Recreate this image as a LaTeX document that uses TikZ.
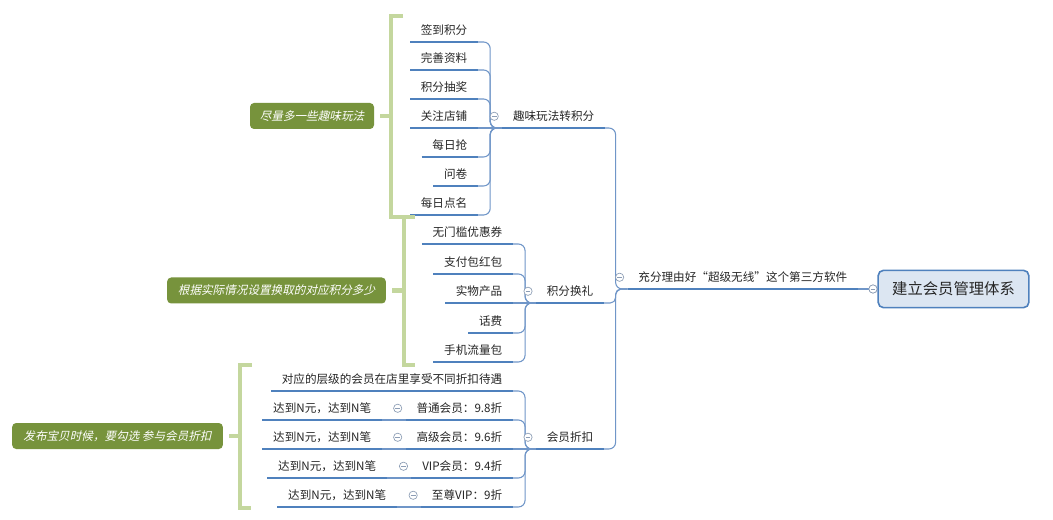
\documentclass[tikz,border=0pt]{standalone}
\usepackage{fontspec}
\setmainfont{Noto Sans CJK SC}
\newfontfamily\slantcjk[FakeSlant=0.22]{Noto Sans CJK SC}
\definecolor{ulblue}{HTML}{4F81BD}
\definecolor{lnblue}{HTML}{7096C8}
\definecolor{brgreen}{HTML}{C4D79E}
\definecolor{cgreen}{HTML}{77933C}
\definecolor{rootfill}{HTML}{DCE6F2}
\definecolor{foldgray}{HTML}{8C9DB5}
\tikzset{
  topic/.style={anchor=south east, font=\fontsize{8.7pt}{10pt}\selectfont, text=black!85,
    inner xsep=7.9pt, inner ysep=2.5pt, text height=7pt, text depth=3.2pt},
  ul/.style={draw=ulblue, line width=2.2pt},
  conn/.style={draw=lnblue, line width=0.8pt, rounded corners=5pt},
  fold/.style={circle, draw=foldgray, fill=white, line width=0.5pt, minimum size=6.2pt, inner sep=0pt,
    path picture={\draw[foldgray, line width=0.5pt] ([xshift=1.3pt]path picture bounding box.west) -- ([xshift=-1.3pt]path picture bounding box.east);}},
  callout/.style={fill=cgreen, rounded corners=3pt, text=white, font=\slantcjk\fontsize{8.7pt}{10pt}\selectfont,
    minimum height=19.5pt, inner sep=0pt},
  bracket/.style={draw=brgreen, line width=3.2pt, line join=miter},
  rootbox/.style={draw=ulblue, fill=rootfill, line width=1.2pt, rounded corners=4pt,
    minimum width=113pt, minimum height=28pt, inner sep=0pt, font=\fontsize{11.5pt}{13pt}\selectfont, text=black!85}
}
\begin{document}
\begin{tikzpicture}[x=0.75pt,y=-0.75pt]
\fill[white] (0,0) rectangle (1053,520);
\useasboundingbox (0,0) rectangle (1053,520);

% root and level 1
\node[rootbox] (root) at (953.5,289) {建立会员管理体系};
\node[topic] (L1) at (858,289) {充分理由好“超级无线”这个第三方软件};
\node[fold] (f0) at (873,289) {};

% level 2
\node[topic] (A) at (605,128) {趣味玩法转积分};
\node[topic] (B) at (604,303) {积分换礼};
\node[topic] (C) at (604,449) {会员折扣};

% group A
\node[topic] (a1) at (478,42) {签到积分};
\node[topic] (a2) at (478,70) {完善资料};
\node[topic] (a3) at (478,99) {积分抽奖};
\node[topic] (a4) at (478,128) {关注店铺};
\node[topic] (a5) at (478,157) {每日抢};
\node[topic] (a6) at (478,186) {问卷};
\node[topic] (a7) at (478,215) {每日点名};

% group B
\node[topic] (b1) at (513,244) {无门槛优惠券};
\node[topic] (b2) at (513,274) {支付包红包};
\node[topic] (b3) at (513,303) {实物产品};
\node[topic] (b4) at (513,333) {话费};
\node[topic] (b5) at (513,362) {手机流量包};

% group C
\node[topic] (c1) at (513,391) {对应的层级的会员在店里享受不同折扣待遇};
\node[topic] (c2) at (513,420) {普通会员：9.8折};
\node[topic] (c3) at (513,449) {高级会员：9.6折};
\node[topic] (c4) at (513,478) {VIP会员：9.4折};
\node[topic] (c5) at (513,507) {至尊VIP：9折};

% grandchildren
\node[topic] (g2) at (382,420) {达到N元，达到N笔};
\node[topic] (g3) at (382,449) {达到N元，达到N笔};
\node[topic] (g4) at (387,478) {达到N元，达到N笔};
\node[topic] (g5) at (397,507) {达到N元，达到N笔};

% junctions
\coordinate (jL1) at ([xshift=-9pt]L1.south west);
\coordinate (jA) at ([xshift=-9pt]A.south west);
\coordinate (jB) at ([xshift=-8.2pt]B.south west);
\coordinate (jC) at ([xshift=-8.2pt]C.south west);

% connectors
\draw[conn] (A.south east) -| (jL1) -- (L1.south west);
\draw[conn, rounded corners=4pt] (B.south east) -| (jL1) -- (L1.south west);
\draw[conn] (C.south east) -| (jL1) -- (L1.south west);
\foreach \c in {a1,a2,a3,a5,a6,a7} \draw[conn] (\c.south east) -| (jA) -- (A.south west);
\draw[conn] (a4.south east) -- (A.south west);
\foreach \c in {b1,b2,b4,b5} \draw[conn] (\c.south east) -| (jB) -- (B.south west);
\draw[conn] (b3.south east) -- (B.south west);
\foreach \c in {c1,c2,c4,c5} \draw[conn] (\c.south east) -| (jC) -- (C.south west);
\draw[conn] (c3.south east) -- (C.south west);
\foreach \g/\c in {g2/c2,g3/c3,g4/c4,g5/c5} \draw[conn] (\g.south east) -- (\c.south west);
\draw[conn] (L1.south east) -- (f0.west);
\draw[conn] (f0.east) -- (root.west);

% underlines
\foreach \n in {L1,A,B,C,a1,a2,a3,a4,a5,a6,a7,b1,b2,b3,b4,b5,c1,c2,c3,c4,c5,g2,g3,g4,g5}
  \draw[ul] (\n.south west) -- (\n.south east);

% fold markers
\node[fold] (f0) at (873,289) {};
\foreach \n in {L1,A,B,C,c2,c3,c4,c5}
  \node[fold] (fold-\n) at ([xshift=-6pt,yshift=8.8pt]\n.south west) {};

% callouts and summary brackets
\node[callout, minimum width=93pt] (n1) at (312,116) {尽量多一些趣味玩法};
\node[callout, minimum width=164pt] (n2) at (276.5,290.5) {根据实际情况设置换取的对应积分多少};
\node[callout, minimum width=158pt] (n3) at (117.5,436) {发布宝贝时候，要勾选 参与会员折扣};

\draw[bracket] (403,16) -- (391,16) -- (391,217) -- (415,217);
\draw[bracket] ([xshift=4.5pt]n1.east) -- ++(8.3pt,0);
\draw[bracket] (404,217) -- (404,365) -- (415,365);
\draw[bracket] ([xshift=4.5pt]n2.east) -- ++(9pt,0);
\draw[bracket] (252,365) -- (240,365) -- (240,508) -- (251,508);
\draw[bracket] ([xshift=4.5pt]n3.east) -- ++(8.3pt,0);
\end{tikzpicture}
\end{document}
